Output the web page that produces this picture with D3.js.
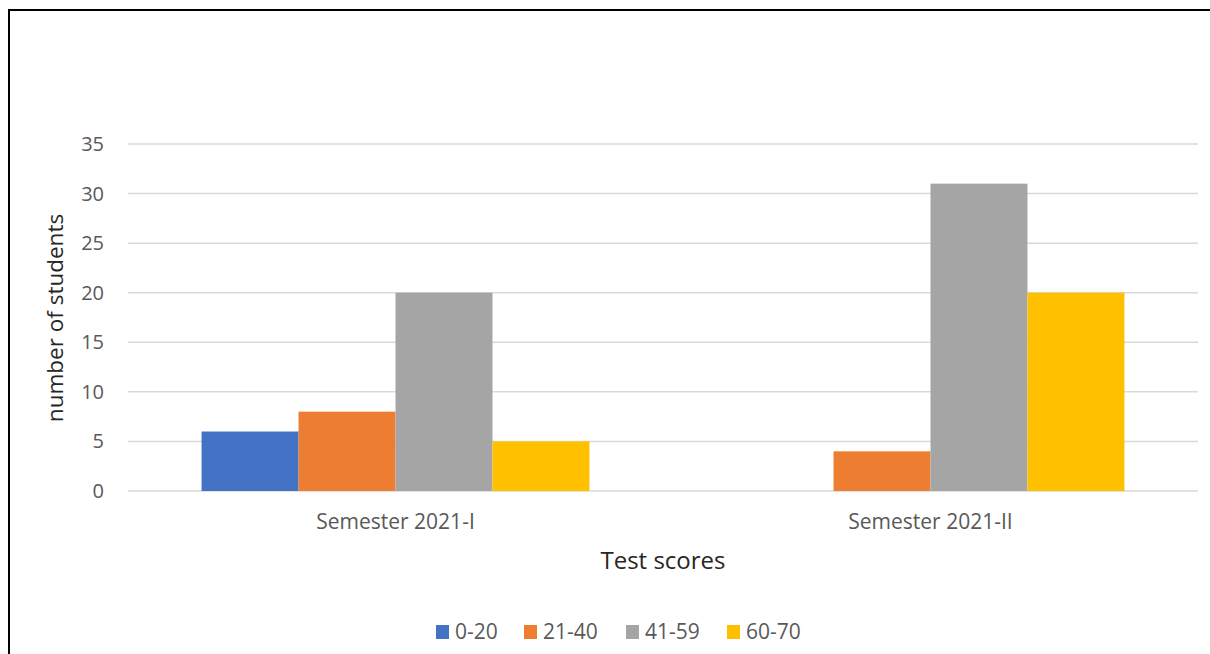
<!DOCTYPE html>
<html>
<head>
<meta charset="utf-8">
<script src="https://cdn.jsdelivr.net/npm/d3@7"></script>
<style>
  body { margin: 0; background: #fff; }
  text { font-family: "Open Sans", "Noto Sans", sans-serif; fill: #595959; }
</style>
</head>
<body>
<svg id="chart" width="1210" height="654"></svg>
<script>
const semesters = ['Semester 2021-I', 'Semester 2021-II'];
const ranges = ['0-20', '21-40', '41-59', '60-70'];
const colors = ['#4472c4', '#ed7d31', '#a5a5a5', '#ffc000'];
// one array per score range, values per semester
const scores020 = [6, 0];
const scores2140 = [8, 4];
const scores4159 = [20, 31];
const scores6070 = [5, 20];
const yTicks = [0, 5, 10, 15, 20, 25, 30, 35];

const seriesValues = [scores020, scores2140, scores4159, scores6070];

const svg = d3.select('#chart');

// outer frame
svg.append('rect')
  .attr('x', 9).attr('y', 10)
  .attr('width', 1230).attr('height', 660)
  .attr('fill', 'none')
  .attr('stroke', '#000')
  .attr('stroke-width', 2);

const margin = { left: 128, right: 1198, top: 144, bottom: 491 };

const x0 = d3.scaleBand()
  .domain(semesters)
  .range([margin.left, margin.right])
  .paddingInner(0.275)
  .paddingOuter(0.1375);

const x1 = d3.scaleBand()
  .domain(ranges)
  .range([0, x0.bandwidth()]);

const y = d3.scaleLinear()
  .domain([0, 35])
  .range([margin.bottom, margin.top]);

// gridlines
svg.append('g')
  .selectAll('line')
  .data(yTicks)
  .join('line')
  .attr('x1', margin.left)
  .attr('x2', margin.right)
  .attr('y1', d => y(d))
  .attr('y2', d => y(d))
  .attr('stroke', '#d9d9d9')
  .attr('stroke-width', 1.5);

// y tick labels
svg.append('g')
  .selectAll('text')
  .data(yTicks)
  .join('text')
  .attr('x', 104)
  .attr('y', d => y(d))
  .attr('dy', '0.35em')
  .attr('text-anchor', 'end')
  .style('font-size', '20px')
  .text(d => d);

// bars
const groups = svg.append('g')
  .selectAll('g')
  .data(semesters)
  .join('g')
  .attr('transform', d => `translate(${x0(d)},0)`);

groups.selectAll('rect')
  .data((d, i) => ranges.map((r, j) => ({ range: r, value: seriesValues[j][i], color: colors[j] })))
  .join('rect')
  .filter(d => d.value > 0)
  .attr('x', d => x1(d.range))
  .attr('width', x1.bandwidth())
  .attr('y', d => y(d.value))
  .attr('height', d => y(0) - y(d.value))
  .attr('fill', d => d.color);

// category labels
svg.append('g')
  .selectAll('text')
  .data(semesters)
  .join('text')
  .attr('x', d => x0(d) + x0.bandwidth() / 2)
  .attr('y', 522)
  .attr('dy', '0.35em')
  .attr('text-anchor', 'middle')
  .style('font-size', '21px')
  .text(d => d);

// axis titles
svg.append('text')
  .attr('x', (margin.left + margin.right) / 2)
  .attr('y', 561)
  .attr('dy', '0.35em')
  .attr('text-anchor', 'middle')
  .style('font-size', '24px')
  .style('fill', '#262626')
  .text('Test scores');

svg.append('text')
  .attr('transform', 'translate(55,318) rotate(-90)')
  .attr('dy', '0.35em')
  .attr('text-anchor', 'middle')
  .style('font-size', '22.5px')
  .style('fill', '#262626')
  .text('number of students');

// legend
const legendX = [436, 524, 626, 727];
const legend = svg.append('g')
  .selectAll('g')
  .data(ranges)
  .join('g')
  .attr('transform', (d, i) => `translate(${legendX[i]},632)`);

legend.append('rect')
  .attr('x', 0).attr('y', -7)
  .attr('width', 13).attr('height', 14)
  .attr('fill', (d, i) => colors[i]);

legend.append('text')
  .attr('x', 19)
  .attr('dy', '0.35em')
  .style('font-size', '21px')
  .text(d => d);
</script>
</body>
</html>
